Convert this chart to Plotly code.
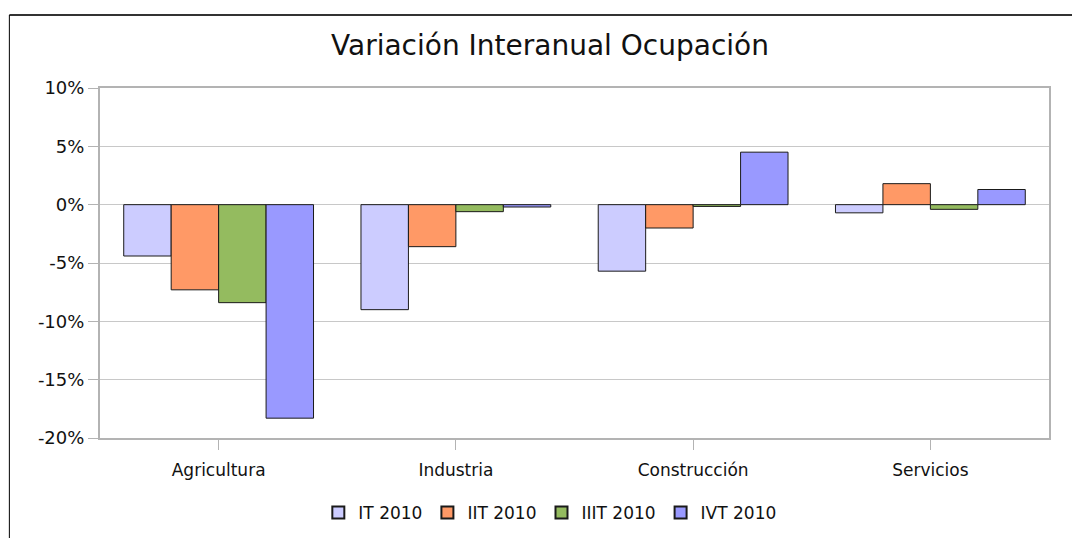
import plotly.graph_objects as go

categories = ["Agricultura", "Industria", "Construcción", "Servicios"]
series_names = ["IT 2010", "IIT 2010", "IIIT 2010", "IVT 2010"]
it_2010 = [-4.4, -9.0, -5.7, -0.7]
iit_2010 = [-7.3, -3.6, -2.0, 1.8]
iiit_2010 = [-8.4, -0.6, -0.15, -0.4]
ivt_2010 = [-18.3, -0.2, 4.5, 1.3]
colors = ["#ccccff", "#ff9966", "#94bb5f", "#9999ff"]
y_tickvals = [-20, -15, -10, -5, 0, 5, 10]
y_ticktext = ["-20%", "-15%", "-10%", "-5%", "0%", "5%", "10%"]

FONT = "DejaVu Sans"
W, H = 1072, 530  # page body has an 8px margin

fig = go.Figure()
for name, vals, col in zip(series_names, [it_2010, iit_2010, iiit_2010, ivt_2010], colors):
    fig.add_trace(go.Bar(
        x=categories, y=vals, name=name,
        marker=dict(color=col, line=dict(color="#1a1a1a", width=1)),
    ))

fig.update_layout(
    width=W, height=H,
    paper_bgcolor="white", plot_bgcolor="white",
    margin=dict(l=92, r=31, t=80, b=100),
    barmode="group", bargap=0.2, bargroupgap=0,
    font=dict(family=FONT, color="#111111", size=17),
    title=dict(text="Variación Interanual Ocupación", x=0.5056, xanchor="center",
               y=1 - 37 / H, yanchor="middle",
               font=dict(family=FONT, size=28, color="#111111")),
    showlegend=True,
    legend=dict(orientation="h", x=0.474, xanchor="center",
                yref="container", y=1 - 505 / H, yanchor="middle",
                font=dict(family=FONT, size=17), traceorder="normal",
                itemsizing="constant", bgcolor="rgba(0,0,0,0)"),
    xaxis=dict(showline=True, linecolor="#b3b3b3", linewidth=2, mirror=True,
               ticks="outside", ticklen=10, tickcolor="#b3b3b3",
               ticklabelstandoff=6,
               showgrid=False, tickfont=dict(size=17)),
    yaxis=dict(range=[-20, 10], tickvals=y_tickvals, ticktext=y_ticktext,
               showline=True, linecolor="#b3b3b3", linewidth=2, mirror=True,
               ticks="outside", ticklen=10, tickcolor="#b3b3b3",
               showgrid=True, gridcolor="#c8c8c8", gridwidth=1,
               zeroline=False, tickfont=dict(size=18)),
)

# outer frame of the original chart image
fig.add_shape(type="line", xref="paper", yref="paper",
              x0=-0.0955, x1=1.1, y0=1.2086, y1=1.2086,
              line=dict(color="#333333", width=2))
fig.add_shape(type="line", xref="paper", yref="paper",
              x0=-0.0955, x1=-0.0955, y0=1.2086, y1=-0.4,
              line=dict(color="#000000", width=1))

fig.write_html("out.html")
